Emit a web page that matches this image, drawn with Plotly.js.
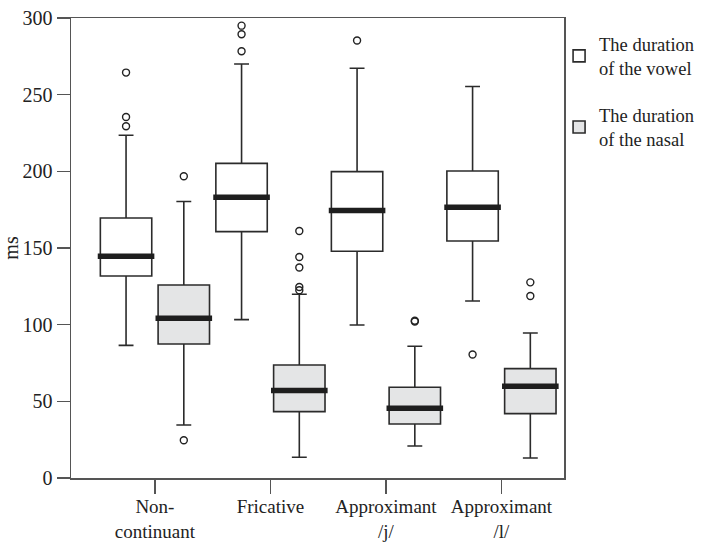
<!DOCTYPE html>
<html>
<head>
<meta charset="utf-8">
<script src="https://cdn.plot.ly/plotly-3.0.1.min.js"></script>
<style>
  html, body { margin: 0; padding: 0; background: #fff; }
  #chart { width: 725px; height: 545px; }
</style>
</head>
<body>
<div id="chart"></div>
<script>
// ---- Data ----
const categories = ['Non-<br>continuant', 'Fricative', 'Approximant<br>/j/', 'Approximant<br>/l/'];
const seriesNames = ['The duration<br>of the vowel', 'The duration<br>of the nasal'];

const vowelLower  = [86.5, 103.3, 99.8, 115.4];
const vowelQ1     = [131.7, 160.7, 147.9, 154.6];
const vowelMedian = [144.6, 183.1, 174.4, 176.5];
const vowelQ3     = [169.6, 205.2, 199.8, 200.2];
const vowelUpper  = [223.5, 270.0, 267.2, 255.3];
const vowelOutliers = [[264.4, 235.4, 229.4], [295.0, 289.4, 278.3], [285.3], [80.5]];

const nasalLower  = [34.6, 13.5, 20.9, 13.0];
const nasalQ1     = [87.4, 43.3, 35.2, 42.0];
const nasalMedian = [104.2, 57.0, 45.5, 59.8];
const nasalQ3     = [125.9, 73.7, 59.2, 71.3];
const nasalUpper  = [180.3, 119.8, 85.9, 94.6];
const nasalOutliers = [[196.8, 24.6], [161.1, 144.1, 137.3, 124.6, 122.4], [102.0, 102.6], [127.6, 118.7]];

// ---- Styles ----
const FONT = 'Liberation Serif, Times New Roman, serif';
const offsets = [-0.25, 0.25];
const boxWidth = 0.445;
const fills = ['#ffffff', '#e4e5e6'];

const seriesStats = [
  {lower: vowelLower, q1: vowelQ1, med: vowelMedian, q3: vowelQ3, upper: vowelUpper, out: vowelOutliers},
  {lower: nasalLower, q1: nasalQ1, med: nasalMedian, q3: nasalQ3, upper: nasalUpper, out: nasalOutliers}
];

const traces = [];
seriesStats.forEach((s, si) => {
  const xs = categories.map((c, i) => i + offsets[si]);
  // main boxes
  traces.push({
    type: 'box',
    name: seriesNames[si],
    legendgroup: 'g' + si,
    x: xs,
    q1: s.q1, median: s.med, q3: s.q3,
    lowerfence: s.lower, upperfence: s.upper,
    width: boxWidth,
    whiskerwidth: 0.29,
    fillcolor: fills[si],
    line: {color: '#2b2b2b', width: 1.6},
    boxpoints: false,
    hoverinfo: 'skip'
  });
  // thick median bars
  traces.push({
    type: 'box',
    showlegend: false,
    legendgroup: 'g' + si,
    x: xs,
    q1: s.med, median: s.med, q3: s.med,
    lowerfence: s.med, upperfence: s.med,
    width: boxWidth + 0.045,
    whiskerwidth: 0,
    fillcolor: 'rgba(0,0,0,0)',
    line: {color: '#1e1e1e', width: 5.5},
    boxpoints: false,
    hoverinfo: 'skip'
  });
  // outliers
  const ox = [], oy = [];
  s.out.forEach((arr, i) => arr.forEach(v => { ox.push(i + offsets[si]); oy.push(v); }));
  traces.push({
    type: 'scatter',
    mode: 'markers',
    showlegend: false,
    legendgroup: 'g' + si,
    x: ox, y: oy,
    marker: {symbol: 'circle-open', size: 7, color: '#222', line: {width: 1.4, color: '#222'}},
    hoverinfo: 'skip'
  });
});

const layout = {
  width: 725, height: 545,
  margin: {l: 71, r: 161, t: 18, b: 67},
  paper_bgcolor: '#fff', plot_bgcolor: '#fff',
  font: {family: FONT, size: 20, color: '#222'},
  showlegend: true,
  boxmode: 'overlay',
  legend: {
    x: 0.99, xanchor: 'left', y: 0.984, yanchor: 'top',
    bgcolor: 'rgba(0,0,0,0)',
    font: {family: FONT, size: 18.5, color: '#222'},
    traceorder: 'grouped', tracegroupgap: 20,
    valign: 'middle'
  },
  xaxis: {
    range: [-0.7266, 3.5415],
    tickvals: [0, 1, 2, 3],
    ticktext: categories,
    showgrid: false, zeroline: false,
    showline: true, mirror: true, linecolor: '#555', linewidth: 1.5,
    ticks: 'outside', ticklen: 14, tickwidth: 1.5, tickcolor: '#555',
    ticklabelstandoff: -3,
    tickfont: {family: FONT, size: 19, color: '#222'}
  },
  yaxis: {
    range: [0, 300], dtick: 50, tick0: 0,
    showgrid: false, zeroline: false,
    showline: true, mirror: true, linecolor: '#555', linewidth: 1.5,
    ticks: 'outside', ticklen: 13, tickwidth: 1.5, tickcolor: '#555',
    tickfont: {family: FONT, size: 20, color: '#222'},
    title: {text: 'ms', font: {family: FONT, size: 20, color: '#222'}, standoff: 1}
  }
};

Plotly.newPlot('chart', traces, layout, {displayModeBar: false, staticPlot: true});
</script>
</body>
</html>
